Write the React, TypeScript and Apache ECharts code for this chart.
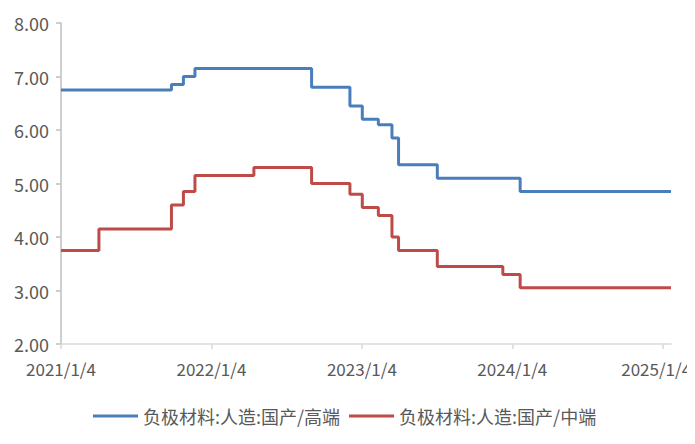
import React, { useEffect, useRef } from "react";
import * as echarts from "echarts";

const seriesNames = ["负极材料:人造:国产/高端", "负极材料:人造:国产/中端"];

const highDates = [
  "2021-01-04", "2021-09-29", "2021-10-28", "2021-11-25", "2022-09-04", "2022-12-06",
  "2023-01-05", "2023-02-13", "2023-03-18", "2023-04-03", "2023-07-06", "2024-01-23", "2025-01-23",
];
const highValues = [6.75, 6.85, 7.0, 7.15, 6.8, 6.45, 6.2, 6.1, 5.85, 5.35, 5.1, 4.85, 4.85];

const midDates = [
  "2021-01-04", "2021-04-06", "2021-09-29", "2021-10-28", "2021-11-25", "2022-04-17", "2022-09-04",
  "2022-12-06", "2023-01-05", "2023-02-13", "2023-03-18", "2023-04-03", "2023-07-06", "2023-12-12",
  "2024-01-23", "2025-01-23",
];
const midValues = [3.75, 4.15, 4.6, 4.85, 5.15, 5.3, 5.0, 4.8, 4.55, 4.4, 4.0, 3.75, 3.45, 3.3, 3.05, 3.05];

const xTickLabels = ["2021/1/4", "2022/1/4", "2023/1/4", "2024/1/4", "2025/1/4"];
const xMin = "2021-01-04";
const xMax = "2025-01-23";

const toTs = (s: string) => {
  const [y, m, d] = s.split("-").map(Number);
  return Date.UTC(y, m - 1, d);
};
const labelTs = (s: string) => {
  const [y, m, d] = s.split("/").map(Number);
  return Date.UTC(y, m - 1, d);
};

export default function App() {
  const ref = useRef<HTMLDivElement>(null);
  useEffect(() => {
    if (!ref.current) return;
    const chart = echarts.init(ref.current, undefined, { renderer: "svg" });
    const tickValues = xTickLabels.map(labelTs);
    const labelMap: Record<number, string> = {};
    tickValues.forEach((t, i) => (labelMap[t] = xTickLabels[i]));
    const lastTick = tickValues[tickValues.length - 1];
    const font = "'Noto Sans CJK SC', 'Noto Sans', sans-serif";
    chart.setOption({
      animation: false,
      grid: { left: 53, right: 24, top: 15, bottom: 92, containLabel: false, outerBoundsMode: "none" },
      legend: {
        top: 394,
        left: 80,
        icon: "rect",
        itemWidth: 45,
        itemHeight: 3,
        itemGap: 9,
        textStyle: { color: "#595959", fontSize: 18, fontFamily: font },
        data: seriesNames,
      },
      xAxis: {
        type: "value",
        min: toTs(xMin),
        max: toTs(xMax),
        axisLine: { show: true, lineStyle: { color: "#D9D9D9", width: 1.5 } },
        axisTick: { show: true, length: 5, customValues: tickValues, lineStyle: { color: "#D9D9D9", width: 1.5 } },
        axisLabel: {
          customValues: tickValues,
          formatter: (v: number) =>
            v === lastTick ? `{last|${labelMap[v]}}` : labelMap[v] ?? "",
          color: "#595959",
          fontSize: 17,
          fontFamily: font,
          margin: 16,
          hideOverlap: false,
          showMinLabel: true,
          showMaxLabel: true,
          rich: {
            last: {
              color: "#595959",
              fontSize: 17,
              fontFamily: font,
              padding: [0, 14, 0, 0],
            },
          },
        },
        splitLine: { show: false },
      },
      yAxis: {
        type: "value",
        min: 2,
        max: 8,
        interval: 1,
        axisLine: { show: true, lineStyle: { color: "#BFBFBF", width: 1.5 } },
        axisTick: { show: true, length: 5, lineStyle: { color: "#BFBFBF", width: 1.5 } },
        axisLabel: {
          formatter: (v: number) => v.toFixed(2),
          color: "#595959",
          fontSize: 18,
          fontFamily: font,
          margin: 12,
        },
        splitLine: { show: false },
      },
      series: [
        {
          name: seriesNames[0],
          type: "line",
          step: "end",
          symbol: "none",
          lineStyle: { color: "#4A7EBB", width: 3 },
          itemStyle: { color: "#4A7EBB" },
          data: highDates.map((d, i) => [toTs(d), highValues[i]]),
        },
        {
          name: seriesNames[1],
          type: "line",
          step: "end",
          symbol: "none",
          lineStyle: { color: "#BE4B48", width: 3 },
          itemStyle: { color: "#BE4B48" },
          data: midDates.map((d, i) => [toTs(d), midValues[i]]),
        },
      ],
    });
    return () => chart.dispose();
  }, []);
  return <div ref={ref} style={{ width: 687, height: 428 }} />;
}
